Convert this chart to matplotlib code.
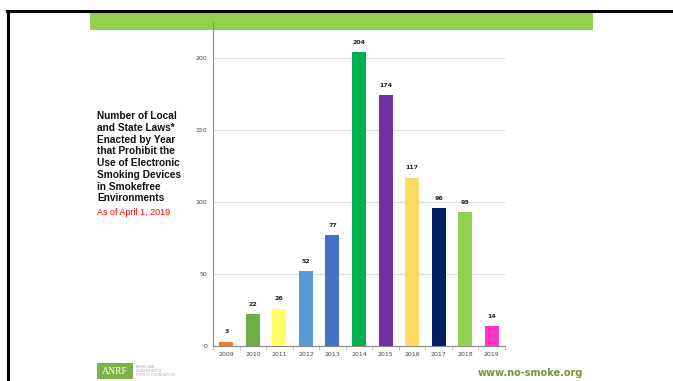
import matplotlib.pyplot as plt
from matplotlib.patches import Rectangle
from matplotlib.lines import Line2D

years = ['2009', '2010', '2011', '2012', '2013', '2014', '2015', '2016', '2017', '2018', '2019']
laws = [3, 22, 26, 52, 77, 204, 174, 117, 96, 93, 14]
bar_colors = ['#ED7D31', '#70AD47', '#FFFF66', '#5B9BD5', '#4472C4', '#00B050',
              '#7030A0', '#FFD966', '#002060', '#92D050', '#FF33CC']
y_ticks = [0, 50, 100, 150, 200]

W, H = 673, 381
fig = plt.figure(figsize=(W / 100, H / 100), dpi=100)


def fx(px):
    return px / W


def fy(py):
    return 1 - py / H


# slide frame and green header band
fig.add_artist(Line2D([fx(8), fx(8)], [fy(11), 0], color='black', lw=2.2))
fig.add_artist(Line2D([fx(7), 1], [fy(11), fy(11)], color='black', lw=2.2))
fig.add_artist(Rectangle((fx(90), fy(30)), fx(593 - 90), fy(12) - fy(30),
                         facecolor='#92D050', edgecolor='none', zorder=0))

ax = fig.add_axes([fx(213), fy(346), fx(505 - 213), fy(22) - fy(346)])
ax.set_facecolor('none')
x = range(len(years))
ax.bar(x, laws, width=0.53, color=bar_colors, zorder=3)
for xi, v in zip(x, laws):
    ax.text(xi, v + 5, str(v), ha='center', va='bottom', fontsize=4.5,
            fontweight='bold', color='#222222')

ax.set_xlim(-0.5, len(years) - 0.5)
ax.set_ylim(0, 225)
ax.set_yticks(y_ticks)
ax.set_xticks(list(x))
ax.set_xticklabels(years)
ax.tick_params(axis='both', labelsize=4.5, colors='#444444', length=0, pad=4)
ax.set_xticks([i + 0.5 for i in range(-1, len(years))], minor=True)
ax.tick_params(axis='x', which='major', length=0)
ax.tick_params(axis='x', which='minor', length=3, color='#bbbbbb')
ax.grid(axis='y', color='#d9d9d9', lw=0.8, zorder=0)
for s in ['top', 'right']:
    ax.spines[s].set_visible(False)
ax.spines['left'].set_color('#888888')
ax.spines['bottom'].set_color('#888888')

# title block
fig.text(fx(97), fy(111), 'Number of Local\nand State Laws*\nEnacted by Year\nthat Prohibit the\n'
         'Use of Electronic\nSmoking Devices\nin Smokefree\nEnvironments',
         ha='left', va='top', fontsize=7.3, fontweight='bold', color='#111111',
         family='Liberation Sans', linespacing=1.22)
fig.text(fx(97), fy(212), 'As of April 1, 2019', ha='left', va='center',
         fontsize=6.5, color='#FF0000', family='Liberation Sans')

# footer logo and url
fig.add_artist(Rectangle((fx(97), fy(379)), fx(36), fy(363) - fy(379),
                         facecolor='#7DB24A', edgecolor='none'))
fig.text(fx(115), fy(371), 'ANRF', ha='center', va='center', fontsize=7,
         color='white', family='Liberation Serif')
fig.text(fx(136), fy(371), 'AMERICAN\nNONSMOKERS\'\nRIGHTS FOUNDATION', ha='left',
         va='center', fontsize=2.6, color='#b0b0b0', linespacing=1.1)
fig.text(fx(583), fy(373), 'www.no-smoke.org', ha='right', va='center',
         fontsize=7, fontweight='bold', color='#77933C')

fig.savefig('out.png', dpi=100)
